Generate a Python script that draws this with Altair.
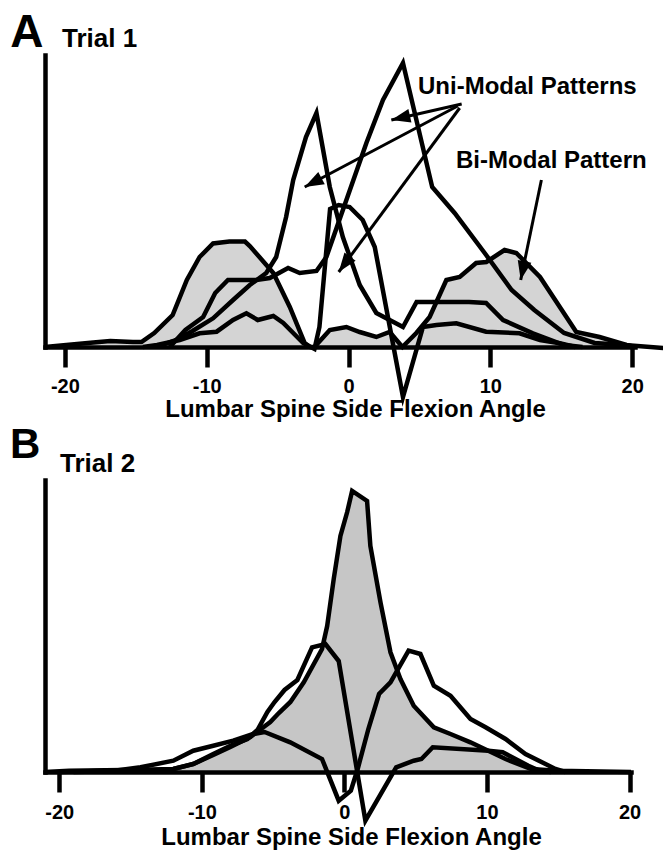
import math
import altair as alt
import pandas as pd

FONT = "Liberation Sans, Arial, Helvetica, sans-serif"
TICKS = [-20, -10, 0, 10, 20]
AXIS_TITLE = "Lumbar Spine Side Flexion Angle"

# ---------------- Panel A : Trial 1 ----------------
A_BIMODAL_X = [-21.4, -19.9, -18.0, -16.8, -15.2, -14.6, -13.7, -12.4, -11.4, -10.5,
               -9.55, -8.4, -7.3, -6.96, -5.3, -4.14, -3.09, -2.7, -2.4, -1.32,
               -0.15, 0.79, 1.96, 2.9, 3.8, 4.78, 5.72, 6.9, 7.84, 9.0,
               9.72, 11.0, 11.83, 13.5, 16.06, 17.7, 19.6, 20.2]
A_BIMODAL_Y = [0, 2, 4.5, 6, 5, 5, 14, 32, 67, 90,
               103.5, 105.5, 105.5, 101, 74, 40, 4, 0, 0, 17,
               20, 15, 10, 15, 0, 14, 30, 67, 70, 84,
               85, 97, 94, 70, 15, 10, 2, 0]

A_UNI1_X = [-13.5, -12.0, -11.0, -9.55, -8.14, -6.96, -5.8, -5.1, -4.4, -3.9,
            -3.0, -2.26, -1.32, -0.4, 0.79, 1.96, 3.84, 4.8, 8.5, 9.7,
            10.9, 13.0, 15.2, 16.5]
A_UNI1_Y = [0, 8, 16, 28.7, 47, 62, 74, 90, 130, 167,
            210, 234, 160, 110, 62, 34, 20, 45, 45, 44,
            27, 13.7, 2, 0]

A_UNI2_X = [-12.6, -11.5, -10.25, -9.4, -8.5, -6.5, -5.55, -4.26, -3.44, -2.26,
            -1.56, -0.15, 1.26, 2.43, 3.84, 5.9, 7.48, 9.6, 11.5, 13.1,
            15.2, 17.35, 19.7, 22.6]
A_UNI2_Y = [0, 17, 30, 54, 67, 67, 69, 79, 74, 76,
            90, 147, 204, 247, 284, 160, 134, 94, 57, 37,
            14, 4, 1.7, -1.5]

A_UNI3_X = [-14.5, -13.5, -11.9, -10.5, -9.3, -8.14, -7.2, -6.4, -5.3, -4.6,
            -3.2, -2.4, -2.05, -1.3, -0.7, 0.08, 1.0, 1.85, 3.84, 5.25,
            6.2, 7.6, 9.7, 12.06, 13.5, 14.9, 16.0]
A_UNI3_Y = [0, 2, 7, 13.7, 15.3, 27, 33.7, 27, 31, 24,
            4, -2, 20, 138, 142, 140, 127, 100, -50, 20,
            22, 23.7, 15.3, 13.7, 7, 3.7, 0]

A_TEXT = ["A", "Trial 1", "Uni-Modal Patterns", "Bi-Modal Pattern"]
A_TEXT_X = [-23.85, -20.2, 4.9, 7.58]
A_TEXT_Y = [300, 300, 253, 179]
A_TEXT_SIZE = [46, 26, 24, 24]

A_ARROW_FROM_X = [7.98, 7.7, 7.84, 13.6]
A_ARROW_FROM_Y = [243, 241, 239, 167]
A_ARROW_TO_X = [3.02, -3.09, -0.69, 12.14]
A_ARROW_TO_Y = [227, 160, 75, 67]

# ---------------- Panel B : Trial 2 ----------------
B_PEAK_X = [-21.0, -19.3, -14.2, -12.0, -10.6, -9.2, -8.0, -6.6, -5.2, -4.6,
            -3.79, -2.85, -1.57, -1.21, -0.75, -0.28, 0.19, 0.54, 1.59, 1.82,
            2.53, 3.23, 3.93, 4.86, 6.27, 7.44, 8.84, 11.3, 13.1, 14.9, 20.1]
B_PEAK_Y = [0, 1.3, 2.3, 3, 8, 17, 25, 35, 50, 59,
            70, 89.7, 123, 146, 193, 236, 259.7, 281, 271, 226,
            169.7, 119.7, 93, 66.3, 44.7, 38, 29.7, 13, 3, 1.3, 0]

B_CURVE1_X = [-20.0, -16.0, -14.3, -12.0, -10.6, -9.2, -7.8, -6.4, -5.6, -3.8,
              -1.57, -0.4, 0.45, 0.93, 1.68, 2.43, 3.23, 4.5, 5.33, 6.27,
              7.44, 8.84, 9.9, 11.3, 12.7, 14.8, 15.5]
B_CURVE1_Y = [0, 1.5, 4.7, 11.3, 21.3, 26.3, 31.3, 38, 40, 29.7,
              13, -28.7, -18.7, 3, 43, 78, 89.7, 121.3, 118, 86.3,
              76.3, 53, 44.7, 33, 18, 3, 0]

B_CURVE2_X = [-19.0, -14.0, -12.0, -10.6, -9.2, -8.0, -6.8, -6.1, -5.4, -4.9,
              -4.2, -3.3, -2.27, -1.33, -0.4, 1.47, 3.63, 4.86, 5.4, 6.2,
              10.1, 11.1, 12.9, 13.7, 14.5]
B_CURVE2_Y = [0, 1.5, 3, 8, 18, 26.3, 33, 42, 60, 70,
              82, 92, 124.7, 128, 111, -48.7, 4.7, 11.3, 13, 24.7,
              21.3, 19.7, 6.3, 1.3, 0]

B_TEXT = ["B", "Trial 2"]
B_TEXT_X = [-23.45, -19.95]
B_TEXT_Y = [314, 300]
B_TEXT_SIZE = [42, 26]

ARROW_HEAD = "M0,0L0.8,2.2L-0.8,2.2Z"
PLOT_H = 292


def curves_df(curves):
    rows = []
    for name, (xs, ys) in curves.items():
        assert len(xs) == len(ys), name
        for x, y in zip(xs, ys):
            rows.append({"curve": name, "x": x, "y": y})
    return pd.DataFrame(rows)


def panel(curves, fill_x, fill_y, fill_color, xdom, width, texts, arrows,
          label_pad, title_x, title_y):
    kx = width / (xdom[1] - xdom[0])
    xaxis = alt.Axis(values=TICKS, labelExpr="'' + datum.value", title=AXIS_TITLE,
                     grid=False, domainWidth=4.5, domainColor="black", domainCap="square",
                     tickWidth=4.5, tickColor="black", tickSize=20,
                     labelFont=FONT, labelFontSize=20, labelFontWeight="bold",
                     labelColor="black", labelBaseline="alphabetic", labelPadding=label_pad,
                     labelOverlap=False, labelFlush=False,
                     titleFont=FONT, titleFontSize=24, titleFontWeight="bold",
                     titleColor="black", titleX=title_x, titleY=title_y,
                     titleAlign="center", titleBaseline="alphabetic", zindex=1)
    yaxis = alt.Axis(labels=False, ticks=False, title=None, grid=False,
                     domainWidth=4.5, domainColor="black", domainCap="square", zindex=1)
    X = alt.X("x:Q", scale=alt.Scale(domain=xdom, nice=False, zero=False), axis=xaxis)
    Y = alt.Y("y:Q", scale=alt.Scale(domain=[0, PLOT_H], nice=False, zero=False), axis=yaxis)

    fill = alt.Chart(pd.DataFrame({"x": fill_x, "y": fill_y})).mark_area(
        color=fill_color, opacity=1).encode(x=X, y=Y)

    lines = alt.Chart(curves_df(curves)).mark_line(
        color="black", strokeWidth=4.5, strokeJoin="miter", strokeMiterLimit=10
    ).encode(x=X, y=Y, detail="curve:N")

    layers = [fill, lines]

    t, tx, ty, ts = texts
    text = alt.Chart(pd.DataFrame({"t": t, "x": tx, "y": ty, "fs": ts})).mark_text(
        align="left", baseline="alphabetic", font=FONT, fontWeight="bold", color="black"
    ).encode(x=X, y=Y, text="t:N", size=alt.Size("fs:Q", scale=None))
    layers.append(text)

    if arrows is not None:
        fx, fy, tx2, ty2 = arrows
        shaft_rows, head_rows = [], []
        for i, (a, b, c, d) in enumerate(zip(fx, fy, tx2, ty2)):
            shaft_rows.append({"id": i, "x": a, "y": b})
            shaft_rows.append({"id": i, "x": c, "y": d})
            dx = (c - a) * kx
            dy = -(d - b)
            ang = math.degrees(math.atan2(dx, -dy)) % 360
            head_rows.append({"x": c, "y": d, "ang": ang})
        shafts = alt.Chart(pd.DataFrame(shaft_rows)).mark_line(
            color="black", strokeWidth=3).encode(x=X, y=Y, detail="id:N")
        heads = alt.Chart(pd.DataFrame(head_rows)).mark_point(
            shape=ARROW_HEAD, filled=True, size=300, color="black", opacity=1, strokeWidth=0
        ).encode(x=X, y=Y, angle=alt.Angle("ang:Q", scale=None))
        layers += [shafts, heads]

    return alt.layer(*layers).properties(width=width, height=PLOT_H)


pa = panel({"bimodal": (A_BIMODAL_X, A_BIMODAL_Y), "uni1": (A_UNI1_X, A_UNI1_Y),
            "uni2": (A_UNI2_X, A_UNI2_Y), "uni3": (A_UNI3_X, A_UNI3_Y)},
           A_BIMODAL_X, A_BIMODAL_Y, "#d4d4d4", [-21.4, 20.2], 590,
           (A_TEXT, A_TEXT_X, A_TEXT_Y, A_TEXT_SIZE),
           (A_ARROW_FROM_X, A_ARROW_FROM_Y, A_ARROW_TO_X, A_ARROW_TO_Y),
           25, 310, 69)

pb = panel({"peak": (B_PEAK_X, B_PEAK_Y), "c1": (B_CURVE1_X, B_CURVE1_Y),
            "c2": (B_CURVE2_X, B_CURVE2_Y)},
           B_PEAK_X, B_PEAK_Y, "#c6c6c6", [-21.0, 20.1], 586,
           (B_TEXT, B_TEXT_X, B_TEXT_Y, B_TEXT_SIZE), None,
           26, 306, 72)

# whole figure: 655 x 842 px; plot A's top-left corner sits at (37, 47) inside it
chart = alt.vconcat(pa, pb, spacing=133, bounds="flush").properties(
    autosize="none",
    padding={"left": 37, "top": 47, "right": 618, "bottom": 795},
    background="white",
).configure_view(stroke=None)

chart.save("out.html", embed_options={"renderer": "svg", "actions": False})
